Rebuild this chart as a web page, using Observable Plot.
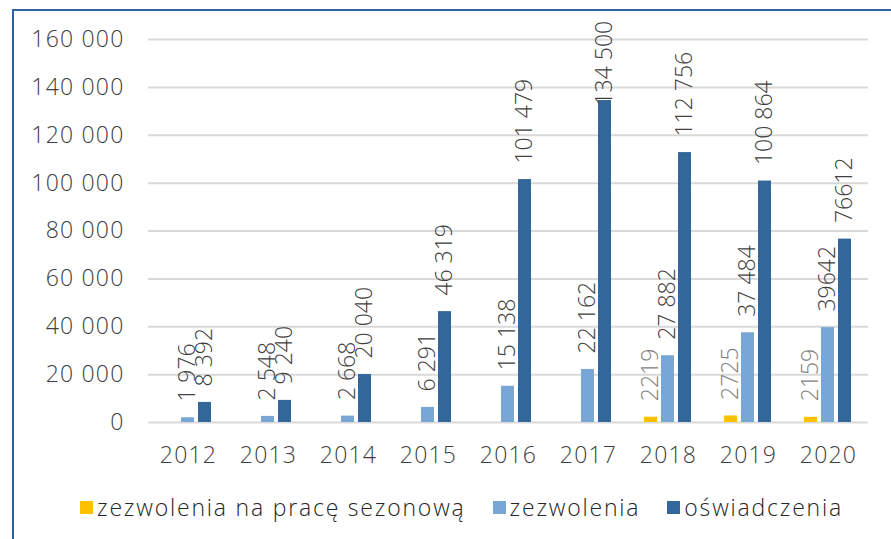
<!DOCTYPE html>
<html><head><meta charset="utf-8">
<script src="https://cdn.jsdelivr.net/npm/d3@7"></script>
<script src="https://cdn.jsdelivr.net/npm/@observablehq/plot@0.6"></script>
<style>
body{margin:0;background:#fff;}
#wrap{position:relative;width:891px;height:539px;overflow:hidden;font-family:"Open Sans",sans-serif;font-weight:300;color:#262626;}
#frame{position:absolute;left:12px;top:9px;width:900px;height:560px;border-left:2px solid #2E62A0;border-top:2px solid #2E62A0;}
#chart{position:absolute;left:0;top:0;}
#chart svg g[aria-label$="tick label"] text{letter-spacing:1.2px;fill:#404040;}
#legend{position:absolute;top:491px;left:80px;display:flex;align-items:center;font-size:23px;letter-spacing:1.8px;white-space:nowrap;}
#legend .it{display:flex;align-items:center;margin-right:27px;}
#legend .sw{width:13px;height:13px;margin-right:4px;}
</style></head>
<body>
<div id="wrap"><div id="frame"></div><div id="chart"></div><div id="legend"></div></div>
<script>
const years = ["2012","2013","2014","2015","2016","2017","2018","2019","2020"];
const series = ["zezwolenia na pracę sezonową","zezwolenia","oświadczenia"];
const colors = ["#FFC000","#78A6D7","#336699"];
const seasonal = [null,null,null,null,null,null,2219,2725,2159];
const permits = [1976,2548,2668,6291,15138,22162,27882,37484,39642];
const declarations = [8392,9240,20040,46319,101479,134500,112756,100864,76612];
const seasonalLabels = ["","","","","","","2219","2725","2159"];
const permitLabels = ["1 976","2 548","2 668","6 291","15 138","22 162","27 882","37 484","39642"];
const declLabels = ["8 392","9 240","20 040","46 319","101 479","134 500","112 756","100 864","76612"];
const yTicks = [0,20000,40000,60000,80000,100000,120000,140000,160000];
const labelCeiling = 125700;

const vals = [seasonal, permits, declarations];
const labs = [seasonalLabels, permitLabels, declLabels];
const data = [];
years.forEach((yr,i)=>{
  vals.forEach((arr,j)=>{
    if(arr[i]!=null) data.push({year:yr, series:series[j], value:arr[i], label:labs[j][i]});
  });
});
const loc = d3.formatLocale({thousands:" ", grouping:[3], decimal:",", currency:["",""]});
const fmt = loc.format(",");
const font = '"Open Sans", sans-serif';

const chart = Plot.plot({
  width:891, height:480,
  marginLeft:146, marginRight:21, marginTop:39, marginBottom:58,
  style:{fontFamily:font, fontSize:"23px", fontWeight:300, color:"#404040", background:"transparent"},
  fx:{domain:years, padding:0, label:null, tickSize:0, tickPadding:24, axis:"bottom"},
  x:{domain:series, paddingInner:0.222, paddingOuter:0.844, axis:null},
  y:{domain:[0,160000], ticks:yTicks, tickFormat:fmt, tickSize:0, tickPadding:24, label:null},
  color:{domain:series, range:colors},
  marks:[
    Plot.ruleY(yTicks,{stroke:"#d9d9d9", strokeWidth:2}),
    Plot.barY(data,{fx:"year", x:"series", y:"value", fill:"series"}),
    Plot.text(data,{fx:"year", x:"series", y:d=>Math.min(d.value,labelCeiling), text:"label",
      rotate:-90, textAnchor:"start", lineAnchor:"middle", dy:-16,
      fill:d=>d.series===series[0]?"#7f7f7f":"#404040"})
  ]
});
document.getElementById("chart").appendChild(chart);
const lg = document.getElementById("legend");
series.forEach((s,i)=>{
  const it = document.createElement("div"); it.className="it";
  const sw = document.createElement("div"); sw.className="sw"; sw.style.background=colors[i];
  const t = document.createElement("span"); t.textContent=s;
  it.appendChild(sw); it.appendChild(t); lg.appendChild(it);
});
</script>
</body></html>
